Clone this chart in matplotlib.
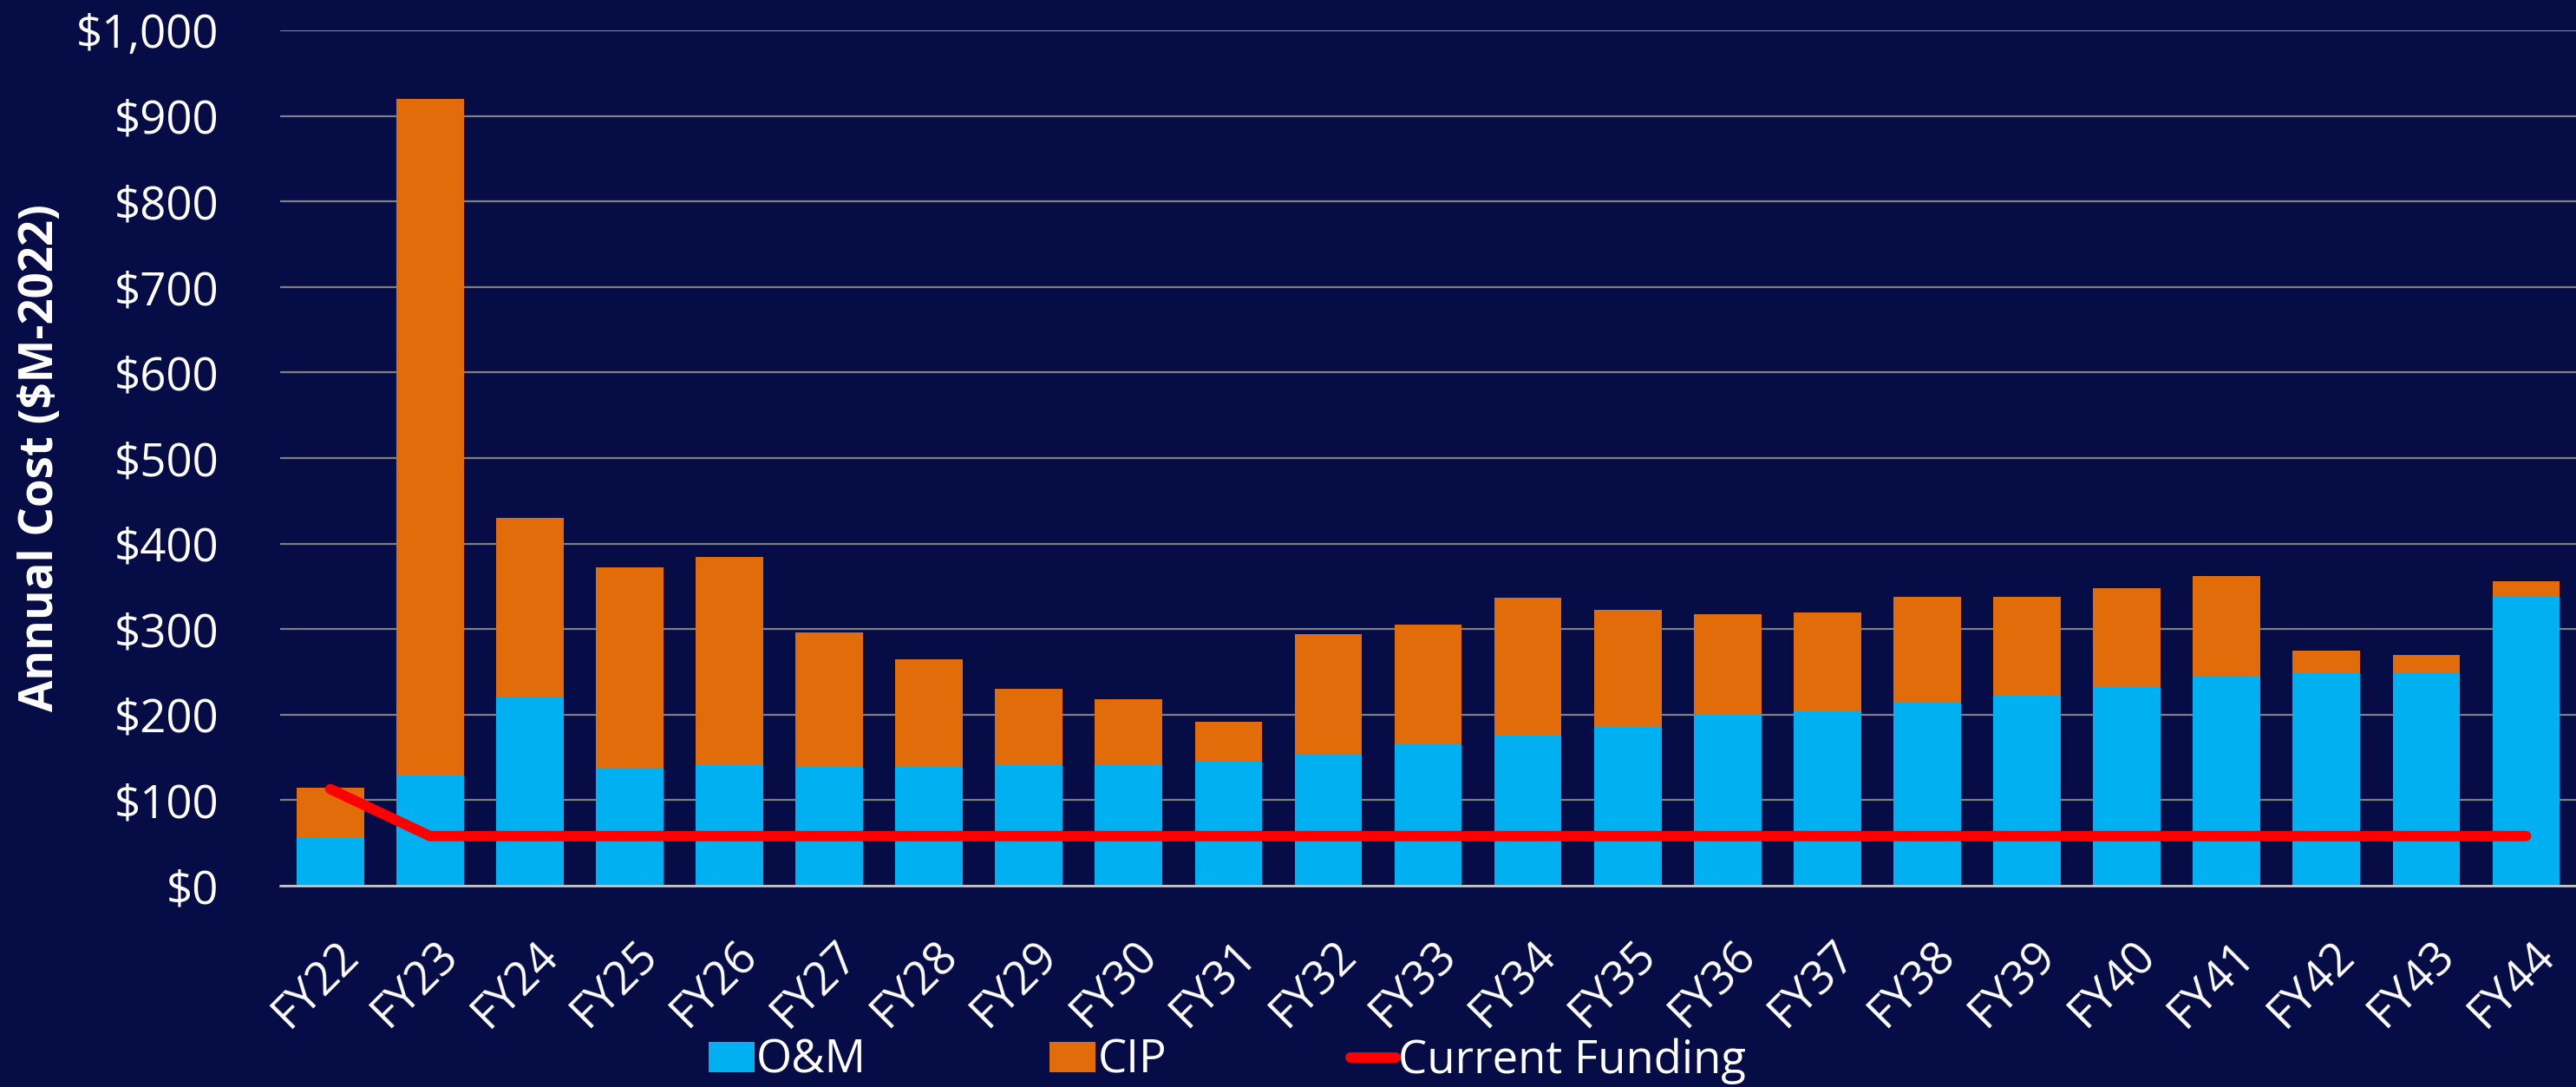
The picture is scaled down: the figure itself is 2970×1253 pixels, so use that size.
import matplotlib
matplotlib.use('Agg')
import matplotlib.pyplot as plt
import matplotlib.transforms as mtransforms
from matplotlib.lines import Line2D
from matplotlib.patches import Patch
import numpy as np

plt.rcParams['font.family'] = ['Open Sans', 'DejaVu Sans']

# data ($M-2022)
years = ['FY22', 'FY23', 'FY24', 'FY25', 'FY26', 'FY27', 'FY28', 'FY29', 'FY30', 'FY31',
         'FY32', 'FY33', 'FY34', 'FY35', 'FY36', 'FY37', 'FY38', 'FY39', 'FY40', 'FY41',
         'FY42', 'FY43', 'FY44']
om = [56, 129, 221, 138, 141, 140, 139, 141, 142, 145,
      154, 166, 176, 186, 201, 205, 215, 223, 233, 245,
      249, 249, 338]
total = [115, 920, 430, 372, 384, 296, 265, 230, 218, 192,
         294, 305, 337, 322, 317, 319, 338, 338, 348, 362,
         275, 270, 356]
funding = [113, 58, 58, 58, 58, 58, 58, 58, 58, 58,
           58, 58, 58, 58, 58, 58, 58, 58, 58, 58,
           58, 58, 58]

cip = [t - o for t, o in zip(total, om)]

bg = '#060C46'
blue = '#00B0F0'
orange = '#E36C0A'
red = '#FF0000'

fig = plt.figure(figsize=(29.7, 12.53), dpi=100, facecolor=bg)
ax = fig.add_axes([0.1088, 0.1852, 0.8912, 0.7869])
ax.set_facecolor(bg)

x = np.arange(len(years))
ax.bar(x, om, width=0.675, color=blue, zorder=2)
ax.bar(x, cip, width=0.675, bottom=om, color=orange, zorder=2)
ax.plot(x, funding, color=red, linewidth=8.6, solid_capstyle='round',
        solid_joinstyle='round', zorder=3)

ax.set_xlim(-0.5, len(years) - 0.5)
ax.set_ylim(0, 1000)
ax.set_yticks(range(0, 1001, 100))
ax.set_yticklabels(['${:,}'.format(v) for v in range(0, 1001, 100)])
ax.yaxis.grid(True, color='#808080', linewidth=1.6, zorder=0)
ax.set_axisbelow(True)
for s in ['top', 'right', 'left']:
    ax.spines[s].set_visible(False)
ax.spines['bottom'].set_color('#D0D0D0')
ax.spines['bottom'].set_linewidth(1.8)
ax.spines['bottom'].set_zorder(4)

ax.tick_params(axis='y', length=0, pad=51, labelsize=38, labelcolor='white')
ax.tick_params(axis='x', length=0, pad=0, labelsize=38, labelcolor='white')

ax.set_xticks(x)
ax.set_xticklabels(years, rotation=45, ha='right', va='center', rotation_mode='anchor')
offset = mtransforms.ScaledTranslation(18 / 72, -52 / 72, fig.dpi_scale_trans)
for lab in ax.get_xticklabels():
    lab.set_transform(lab.get_transform() + offset)

ax.set_ylabel('Annual Cost ($M-2022)', fontsize=38, fontweight='bold', color='white')
ax.yaxis.set_label_coords(-0.094, 0.5)

handles = [Patch(facecolor=blue, label='O&M'),
           Patch(facecolor=orange, label='CIP'),
           Line2D([0], [0], color=red, linewidth=8.6, solid_capstyle='round', label='Current Funding')]
leg = fig.legend(handles=handles, loc='center', bbox_to_anchor=(0.4764, 0.024), ncol=3,
                 frameon=False, fontsize=38, handlelength=1.0, handleheight=0.64,
                 handletextpad=0.05, columnspacing=4.0, borderpad=0)
for t in leg.get_texts():
    t.set_color('white')

fig.savefig('out.png', dpi=100, facecolor=bg)
